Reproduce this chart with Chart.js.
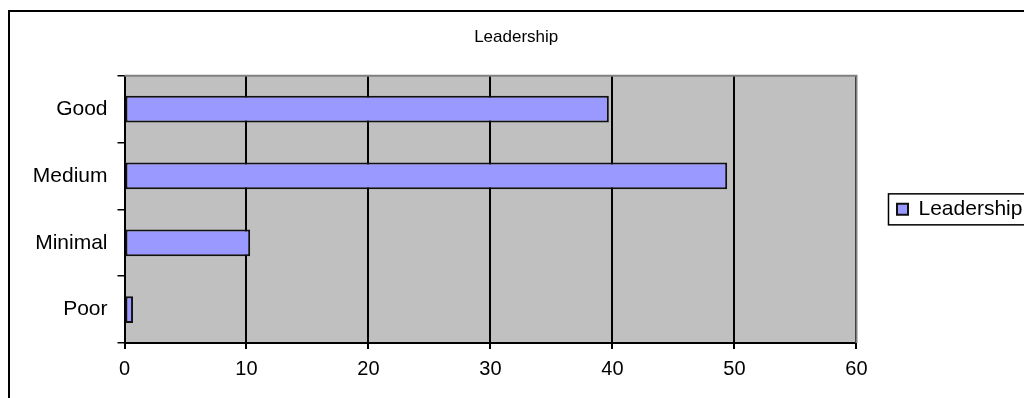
<!DOCTYPE html>
<html>
<head>
<meta charset="utf-8">
<script src="https://cdn.jsdelivr.net/npm/chart.js@4/dist/chart.umd.min.js"></script>
<style>
  html, body { margin: 0; padding: 0; background: #fff; overflow: hidden; width: 1024px; height: 398px; }
  #frame { position: absolute; left: 8px; top: 10px; width: 1100px; height: 500px; border: 2px solid #000; }
  #wrap { position: absolute; left: 0; top: 0; width: 1044px; height: 398px; }
</style>
</head>
<body>
<div id="frame"></div>
<div id="wrap"><canvas id="chart" width="1044" height="398"></canvas></div>
<script>
// chart data
const categories = ['Good', 'Medium', 'Minimal', 'Poor'];
const leadershipValues = [39.7, 49.4, 10.3, 0.7];
const xMin = 0;
const xMax = 60;
const xStep = 10;

const FONT = "'Liberation Sans', Arial, sans-serif";

// gray plot background + gray top/right edge, like the old Excel look
const plotArea = {
  id: 'plotArea',
  beforeDraw(chart) {
    const { ctx, chartArea: a } = chart;
    ctx.save();
    ctx.fillStyle = '#c0c0c0';
    ctx.fillRect(a.left, a.top, a.right - a.left, a.bottom - a.top);
    ctx.restore();
  },
  afterDraw(chart) {
    const { ctx, chartArea: a } = chart;
    ctx.save();
    ctx.strokeStyle = '#808080';
    ctx.lineWidth = 2;
    ctx.beginPath();
    ctx.moveTo(a.left, a.top);
    ctx.lineTo(a.right, a.top);
    ctx.lineTo(a.right, a.bottom);
    ctx.stroke();
    ctx.restore();
  },
};

// box round the legend item
const legendFrame = {
  id: 'legendFrame',
  afterDraw(chart) {
    const lg = chart.legend;
    if (!lg || !lg.legendHitBoxes.length) return;
    const hb = lg.legendHitBoxes[0];
    const cy = hb.top + hb.height / 2;
    const ctx = chart.ctx;
    ctx.save();
    ctx.strokeStyle = '#000';
    ctx.lineWidth = 1.5;
    ctx.strokeRect(hb.left - 8.5, cy - 15.5, 200, 31);
    ctx.restore();
  },
};

new Chart(document.getElementById('chart'), {
  type: 'bar',
  data: {
    labels: categories,
    datasets: [{
      label: 'Leadership',
      data: leadershipValues,
      backgroundColor: '#9999ff',
      borderColor: '#111',
      borderWidth: 2,
      borderSkipped: false,
      barPercentage: 0.4,
      categoryPercentage: 1,
    }],
  },
  options: {
    indexAxis: 'y',
    responsive: false,
    animation: false,
    layout: { padding: { left: 0, top: 0, right: 11.6, bottom: 0 } },
    plugins: {
      title: {
        display: true,
        text: 'Leadership',
        color: '#000',
        font: { family: FONT, size: 17, weight: 'normal' },
        padding: { top: 27.5, bottom: 27.8 },
      },
      legend: {
        position: 'right',
        align: 'center',
        fullSize: false,
        labels: {
          color: '#000',
          font: { family: FONT, size: 21 },
          boxWidth: 11,
          boxHeight: 11,
          padding: 40.5,
        },
      },
      tooltip: { enabled: false },
    },
    scales: {
      x: {
        min: xMin,
        max: xMax,
        ticks: {
          stepSize: xStep,
          color: '#000',
          font: { family: FONT, size: 20 },
          padding: 8,
          maxRotation: 0,
        },
        grid: { color: '#000', lineWidth: 2, tickLength: 6 },
        border: { color: '#000', width: 2 },
        afterFit: (s) => { s.height = 55; },
      },
      y: {
        ticks: {
          color: '#000',
          font: { family: FONT, size: 21 },
          padding: 10,
        },
        grid: { color: '#000', lineWidth: 1.5, tickLength: 7, drawOnChartArea: false, offset: true },
        border: { color: '#000', width: 2 },
        afterFit: (s) => { s.width = 124.5; },
      },
    },
  },
  plugins: [plotArea, legendFrame],
});
</script>
</body>
</html>
